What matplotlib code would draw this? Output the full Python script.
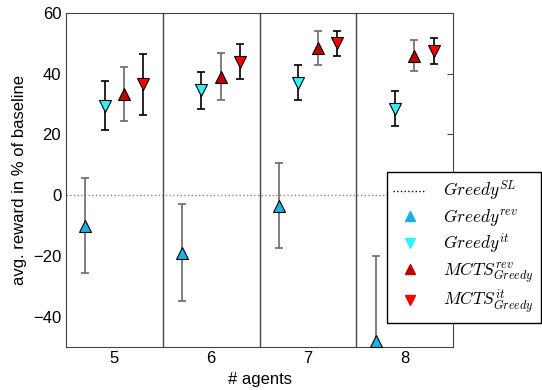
import matplotlib
matplotlib.use("Agg")
import matplotlib.pyplot as plt
import numpy as np
from matplotlib.lines import Line2D

plt.rcParams['font.family'] = ['Liberation Sans', 'DejaVu Sans']
plt.rcParams['mathtext.fontset'] = 'cm'

agents = [5, 6, 7, 8]
series_names = [r'$Greedy^{rev}$', r'$Greedy^{it}$',
                r'$MCTS^{rev}_{Greedy}$', r'$MCTS^{it}_{Greedy}$']
greedy_rev = [-10, -19, -3.5, -48]
greedy_rev_err = [15.5, 16, 14, 28]
greedy_it = [29.5, 34.5, 37, 28.5]
greedy_it_err = [8, 6, 5.8, 5.7]
mcts_rev = [33.3, 39, 48.5, 46]
mcts_rev_err = [9, 7.7, 5.5, 5]
mcts_it = [36.5, 44, 50, 47.5]
mcts_it_err = [10, 5.8, 4.2, 4.2]

means = [greedy_rev, greedy_it, mcts_rev, mcts_it]
errs = [greedy_rev_err, greedy_it_err, mcts_rev_err, mcts_it_err]
offsets = [-0.3, -0.1, 0.1, 0.3]
markers = ['^', 'v', '^', 'v']
colors = ['#1ab0e8', '#33f0f5', '#c00000', '#ff0000']
ecolors = ['#6a6a6a', '#000000', '#6a6a6a', '#000000']

fig = plt.figure(figsize=(5.42, 3.90), dpi=100)
ax = fig.add_axes([66/542, 1-347/390, (453-66)/542, (347-13)/390])

x = np.arange(len(agents))
ax.axhline(0, color='#888888', ls=':', lw=1, zorder=1)
for i in range(1, len(agents)):
    ax.axvline(i - 0.5, color='#444444', lw=1, zorder=1)

for m, e, off, mk, c, ec in zip(means, errs, offsets, markers, colors, ecolors):
    ax.errorbar(x + off, m, yerr=e, fmt='none', ecolor=ec, elinewidth=1.2,
                capsize=3, capthick=1.2, zorder=2)
    ax.plot(x + off, m, ls='none', marker=mk, markersize=9, color=c,
            markeredgecolor='black', markeredgewidth=0.8, zorder=3)

ax.set_xlim(-0.5, len(agents) - 0.5)
ax.set_ylim(-50, 60)
ax.set_xticks(x)
ax.set_xticklabels([str(a) for a in agents])
ax.set_yticks([-40, -20, 0, 20, 40, 60])
ax.tick_params(axis='x', length=0, labelsize=12, pad=3)
ax.tick_params(axis='y', direction='in', left=False, right=True, length=4,
               labelsize=12, color='#444444')
for s in ax.spines.values():
    s.set_color('#444444')
ax.set_xlabel('# agents', fontsize=12)
ax.set_ylabel('avg. reward in % of baseline', fontsize=12)

handles = [Line2D([], [], color='black', ls=':', lw=1)]
for mk, c in zip(markers, colors):
    handles.append(Line2D([], [], ls='none', marker=mk, color=c, markersize=7))
labels = [r'$Greedy^{SL}$'] + series_names
leg = fig.legend(handles, labels, loc='upper right',
                 bbox_to_anchor=(540.5/542, 1 - 172/390), fontsize=12.5,
                 fancybox=False, edgecolor='black', framealpha=1,
                 borderaxespad=0, labelspacing=0.22, handlelength=1.85,
                 handletextpad=1.0, borderpad=0.4)
leg.get_frame().set_linewidth(1)

fig.savefig('out.png', dpi=100)
